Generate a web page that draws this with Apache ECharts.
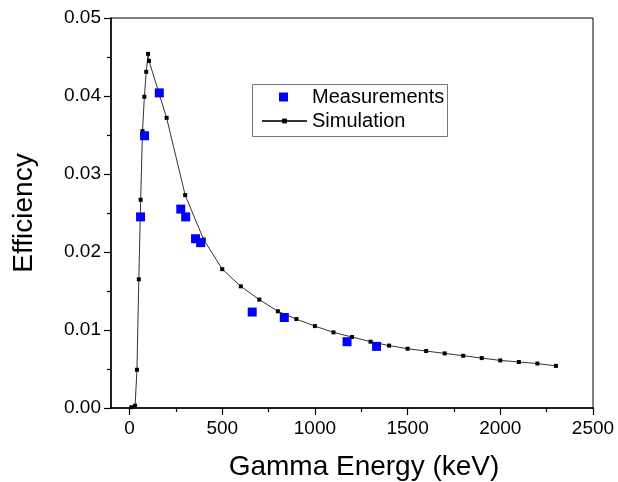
<!DOCTYPE html>
<html>
<head>
<meta charset="utf-8">
<script src="https://cdn.jsdelivr.net/npm/echarts@6/dist/echarts.min.js"></script>
<style>html,body{margin:0;padding:0;background:#fff}#c{width:618px;height:482px}</style>
</head>
<body>
<div id="c"></div>
<script>
const simEnergy = [10, 30, 40, 50, 60, 70, 80, 90, 100, 105, 200, 300, 400, 500, 600, 700, 800, 900, 1000, 1100, 1200, 1300, 1400, 1500, 1600, 1700, 1800, 1900, 2000, 2100, 2200, 2300];
const simEff = [0.0001, 0.0003, 0.0049, 0.0165, 0.0267, 0.0355, 0.0399, 0.0431, 0.0454, 0.0445, 0.0372, 0.0273, 0.0216, 0.0178, 0.0156, 0.0139, 0.0124, 0.0114, 0.0105, 0.0097, 0.0091, 0.0085, 0.0080, 0.0076, 0.0073, 0.0070, 0.0067, 0.0064, 0.0061, 0.0059, 0.0057, 0.0054];
const measEnergy = [59.5, 81, 160.6, 276.4, 302.9, 356, 383.8, 661.7, 834.8, 1173.2, 1332.5];
const measEff = [0.0245, 0.0349, 0.0404, 0.0255, 0.0245, 0.0217, 0.0212, 0.0123, 0.0116, 0.0085, 0.0079];
const xMajorTicks = [0, 500, 1000, 1500, 2000, 2500];
const xMinorTicks = [250, 750, 1250, 1750, 2250];

const font = 'Liberation Sans, Arial, sans-serif';
const chart = echarts.init(document.getElementById('c'), null, {renderer: 'canvas'});
chart.setOption({
  animation: false,
  backgroundColor: '#fff',
  grid: {left: 111, right: 25, top: 18, bottom: 74, show: true, borderColor: '#000', borderWidth: 1, containLabel: false, outerBoundsMode: 'none'},
  xAxis: [{
    type: 'value', min: -100, max: 2500, position: 'bottom',
    name: 'Gamma Energy (keV)', nameLocation: 'middle', nameGap: 45,
    nameTextStyle: {fontFamily: font, fontSize: 28, color: '#000', padding: [0, 0, 0, 24]},
    axisLine: {show: true, onZero: false, lineStyle: {color: '#000', width: 1.5}},
    axisTick: {show: true, inside: false, length: 7, customValues: xMajorTicks, lineStyle: {color: '#000', width: 1.2}},
    axisLabel: {show: true, customValues: xMajorTicks, fontFamily: font, fontSize: 19, color: '#000', margin: 11, formatter: v => String(v)},
    splitLine: {show: false}
  }, {
    type: 'value', min: -100, max: 2500, position: 'bottom',
    axisLine: {show: false, onZero: false},
    axisTick: {show: true, inside: false, length: 4, customValues: xMinorTicks, lineStyle: {color: '#000', width: 1.2}},
    axisLabel: {show: false},
    splitLine: {show: false}
  }],
  yAxis: {
    type: 'value', min: 0, max: 0.05, interval: 0.01,
    name: 'Efficiency', nameLocation: 'middle', nameGap: 73,
    nameTextStyle: {fontFamily: font, fontSize: 28, color: '#000'},
    axisLine: {show: true, onZero: false, lineStyle: {color: '#000', width: 1.5}},
    axisTick: {show: true, inside: false, length: 7, lineStyle: {color: '#000', width: 1.2}},
    minorTick: {show: true, splitNumber: 2, length: 4, lineStyle: {color: '#000', width: 1.2}},
    axisLabel: {fontFamily: font, fontSize: 19, color: '#000', margin: 10, formatter: v => v.toFixed(2)},
    splitLine: {show: false}
  },
  legend: [{
    data: [{name: 'Measurements', icon: 'rect'}],
    left: 279, top: 87, padding: 0, itemWidth: 9, itemHeight: 9,
    textStyle: {fontFamily: font, fontSize: 20, color: '#000', padding: [0, 0, 0, 19]}
  }, {
    data: [{name: 'Simulation'}],
    left: 261, top: 111, padding: 0, itemWidth: 45, itemHeight: 6,
    textStyle: {fontFamily: font, fontSize: 20, color: '#000'}
  }],
  graphic: [{
    type: 'rect', left: 250, top: 82, shape: {width: 195, height: 52},
    style: {fill: 'none', stroke: '#777', lineWidth: 1}, silent: true
  }],
  series: [{
    name: 'Simulation', type: 'line', xAxisIndex: 0,
    data: simEnergy.map((e, i) => [e, simEff[i]]),
    symbol: 'rect', symbolSize: 4, showAllSymbol: true,
    lineStyle: {color: '#333', width: 1},
    itemStyle: {color: '#000'}, z: 2
  }, {
    name: 'Measurements', type: 'scatter', xAxisIndex: 0,
    data: measEnergy.map((e, i) => [e, measEff[i]]),
    symbol: 'rect', symbolSize: 9,
    itemStyle: {color: '#0000ff', opacity: 1}, z: 3
  }]
});
</script>
</body>
</html>
